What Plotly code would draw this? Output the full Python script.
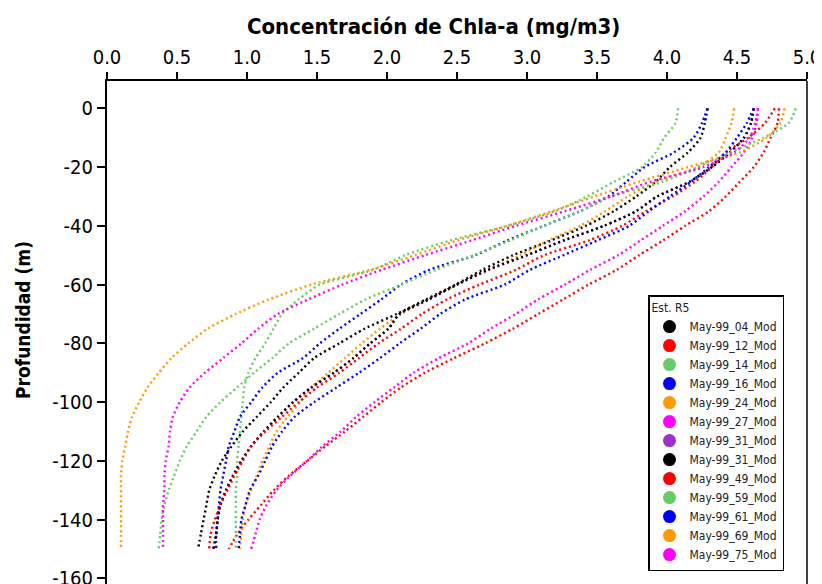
import plotly.graph_objects as go

# Depth levels (m)
depth = [0, -5, -10, -15, -20, -25, -30, -35, -40, -45, -50, -55, -60, -65, -70, -75,
         -80, -85, -90, -95, -100, -105, -110, -115, -120, -125, -130, -135, -140, -145, -150]

# Chl-a concentration (mg/m3) per profile
may99_04 = [4.29, 4.27, 4.24, 4.15, 4.02, 3.92, 3.78, 3.62, 3.42, 3.17, 2.90, 2.68, 2.49, 2.28, 2.07, 1.84,
            1.66, 1.48, 1.37, 1.26, 1.17, 1.07, 0.97, 0.89, 0.82, 0.77, 0.73, 0.71, 0.69, 0.67, 0.65]
may99_12 = [4.80, 4.79, 4.74, 4.69, 4.62, 4.52, 4.42, 4.30, 4.13, 3.97, 3.80, 3.64, 3.44, 3.26, 3.08, 2.90,
            2.70, 2.48, 2.27, 2.10, 1.96, 1.83, 1.70, 1.56, 1.43, 1.30, 1.19, 1.10, 1.01, 0.93, 0.87]
may99_14 = [4.08, 4.06, 3.98, 3.92, 3.82, 3.62, 3.43, 3.20, 2.86, 2.45, 2.13, 1.90, 1.52, 1.37, 1.25, 1.19,
            1.13, 1.06, 1.01, 0.98, 0.97, 0.96, 0.95, 0.94, 0.93, 0.93, 0.92, 0.92, 0.92, 0.92, 0.92]
may99_16 = [4.29, 4.25, 4.19, 4.05, 3.84, 3.71, 3.58, 3.38, 3.12, 2.86, 2.63, 2.30, 2.10, 1.96, 1.81, 1.66,
            1.52, 1.40, 1.22, 1.11, 1.03, 0.95, 0.91, 0.87, 0.85, 0.83, 0.81, 0.80, 0.79, 0.78, 0.78]
may99_24 = [4.48, 4.46, 4.42, 4.37, 4.22, 3.92, 3.72, 3.56, 3.38, 3.15, 2.95, 2.73, 2.50, 2.30, 2.10, 1.95,
            1.82, 1.70, 1.58, 1.46, 1.38, 1.29, 1.21, 1.16, 1.11, 1.07, 1.03, 0.99, 0.97, 0.96, 0.95]
may99_27 = [4.65, 4.64, 4.61, 4.55, 4.46, 4.37, 4.26, 4.13, 3.97, 3.81, 3.65, 3.45, 3.27, 3.08, 2.92, 2.74,
            2.58, 2.37, 2.19, 2.05, 1.91, 1.78, 1.67, 1.54, 1.43, 1.31, 1.21, 1.14, 1.09, 1.06, 1.03]
may99_31a = [4.62, 4.60, 4.55, 4.45, 4.32, 4.16, 3.93, 3.78, 3.55, 3.26, 3.00, 2.72, 2.50, 2.30, 2.09, 2.01,
             1.88, 1.76, 1.62, 1.46, 1.33, 1.22, 1.12, 1.03, 0.96, 0.90, 0.85, 0.81, 0.79, 0.78, 0.76]
may99_31b = [4.62, 4.60, 4.55, 4.45, 4.32, 4.16, 3.93, 3.78, 3.55, 3.26, 3.00, 2.72, 2.50, 2.30, 2.09, 2.01,
             1.88, 1.76, 1.62, 1.46, 1.33, 1.22, 1.12, 1.03, 0.96, 0.90, 0.85, 0.81, 0.79, 0.78, 0.76]
may99_49 = [4.77, 4.70, 4.58, 4.42, 4.32, 4.20, 4.04, 3.85, 3.68, 3.44, 3.12, 2.92, 2.66, 2.43, 2.25, 2.10,
            1.94, 1.80, 1.66, 1.50, 1.37, 1.25, 1.13, 1.03, 0.97, 0.91, 0.86, 0.81, 0.77, 0.74, 0.73]
may99_59 = [4.92, 4.87, 4.69, 4.45, 4.22, 3.97, 3.60, 3.38, 3.12, 2.88, 2.62, 2.35, 2.10, 1.85, 1.66, 1.48,
            1.30, 1.18, 1.05, 0.93, 0.81, 0.71, 0.64, 0.57, 0.52, 0.48, 0.44, 0.41, 0.39, 0.38, 0.37]
may99_61 = [4.62, 4.57, 4.50, 4.42, 4.30, 4.17, 4.02, 3.87, 3.73, 3.50, 3.26, 3.02, 2.84, 2.56, 2.38, 2.24,
            2.09, 1.95, 1.80, 1.64, 1.48, 1.34, 1.25, 1.18, 1.13, 1.08, 1.02, 0.99, 0.96, 0.95, 0.94]
may99_69 = [4.84, 4.81, 4.71, 4.52, 4.15, 3.80, 3.48, 3.18, 2.86, 2.50, 2.20, 1.88, 1.46, 1.16, 0.92, 0.72,
            0.58, 0.46, 0.37, 0.29, 0.23, 0.18, 0.15, 0.13, 0.11, 0.10, 0.10, 0.10, 0.10, 0.10, 0.10]
may99_75 = [4.65, 4.63, 4.59, 4.48, 4.26, 3.88, 3.60, 3.27, 2.92, 2.60, 2.27, 1.96, 1.68, 1.44, 1.22, 1.08,
            0.96, 0.83, 0.70, 0.59, 0.52, 0.47, 0.45, 0.44, 0.42, 0.41, 0.41, 0.40, 0.40, 0.40, 0.40]

names = ["May-99_04_Mod", "May-99_12_Mod", "May-99_14_Mod", "May-99_16_Mod", "May-99_24_Mod",
         "May-99_27_Mod", "May-99_31_Mod", "May-99_31_Mod", "May-99_49_Mod", "May-99_59_Mod",
         "May-99_61_Mod", "May-99_69_Mod", "May-99_75_Mod"]
values = [may99_04, may99_12, may99_14, may99_16, may99_24, may99_27, may99_31a, may99_31b,
          may99_49, may99_59, may99_61, may99_69, may99_75]
colors = ["#000000", "#FF0000", "#66CC66", "#0000FF", "#FF9900", "#FF00FF", "#9933CC",
          "#000000", "#FF0000", "#66CC66", "#0000FF", "#FF9900", "#FF00FF"]

x_ticks = [0.0, 0.5, 1.0, 1.5, 2.0, 2.5, 3.0, 3.5, 4.0, 4.5, 5.0]
y_ticks = [0, -20, -40, -60, -80, -100, -120, -140, -160]

FONT = "DejaVu Sans Condensed, Liberation Sans, sans-serif"

fig = go.Figure()
for i, (nm, col, vals) in enumerate(zip(names, colors, values)):
    fig.add_trace(go.Scatter(
        x=vals, y=depth, mode="lines", name=nm, legendgroup=f"g{i}", showlegend=False,
        line=dict(color=col, width=2.4, dash="2px,3px", shape="spline", smoothing=0.7),
        hoverinfo="skip"))
for i, (nm, col) in enumerate(zip(names, colors)):
    fig.add_trace(go.Scatter(
        x=[None], y=[None], mode="markers", name=nm, legendgroup=f"g{i}",
        marker=dict(color=col, size=13)))

# the page body adds an 8px margin, so the figure is laid out 8px smaller/shifted
OFF = 8
W, H = 822 - OFF, 584 - OFF
L, T, B = 107 - OFF, 81 - OFF, 0
R = W - (807 - OFF)
pw, ph = W - L - R, H - T - B


def px(xw):
    return (xw - OFF - L) / pw


def py(yw):
    return (H - (yw - OFF)) / ph


fig.update_layout(
    width=W, height=H,
    margin=dict(l=L, r=R, t=T, b=B, pad=0, autoexpand=False),
    paper_bgcolor="white", plot_bgcolor="white",
    font=dict(family=FONT, color="black"),
    showlegend=True,
    legend=dict(
        x=px(784), xanchor="right",
        y=py(571), yanchor="bottom",
        bgcolor="white", bordercolor="black", borderwidth=1.5,
        font=dict(family=FONT, size=12, color="#222222"),
        title=dict(text="Est. R5", font=dict(family=FONT, size=12, color="#222222")),
        itemsizing="trace", itemwidth=30, tracegroupgap=0,
    ),
    xaxis=dict(
        range=[0, 5], side="top", tickvals=x_ticks,
        ticktext=[f"{v:.1f}" for v in x_ticks],
        ticks="outside", ticklen=7, tickwidth=1.5, tickcolor="black",
        showline=True, linecolor="black", linewidth=2,
        showgrid=False, zeroline=False, automargin=False,
        ticklabeloverflow="allow",
        tickfont=dict(family=FONT, size=20, color="black"),
    ),
    yaxis=dict(
        range=[-161.9, 9.3], tickvals=y_ticks,
        ticktext=[str(v) for v in y_ticks],
        ticks="outside", ticklen=8, tickwidth=1.5, tickcolor="black",
        showline=True, linecolor="black", linewidth=2,
        showgrid=False, zeroline=False, automargin=False,
        ticklabeloverflow="allow",
        tickfont=dict(family=FONT, size=20, color="black"),
    ),
    shapes=[dict(type="line", xref="paper", yref="paper", x0=1, x1=1, y0=0, y1=1,
                 line=dict(color="black", width=1.5))],
    annotations=[
        dict(text="<b>Concentración de Chla-a (mg/m3)</b>", xref="paper", yref="paper",
             x=px(433), y=py(27), xanchor="center", yanchor="middle",
             showarrow=False, font=dict(family=FONT, size=22, color="black")),
        dict(text="<b>Profundidad (m)</b>", xref="paper", yref="paper",
             x=px(23), y=py(320), xanchor="center", yanchor="middle",
             textangle=-90, showarrow=False, font=dict(family=FONT, size=19, color="black")),
    ],
)

fig.write_html("out.html")
